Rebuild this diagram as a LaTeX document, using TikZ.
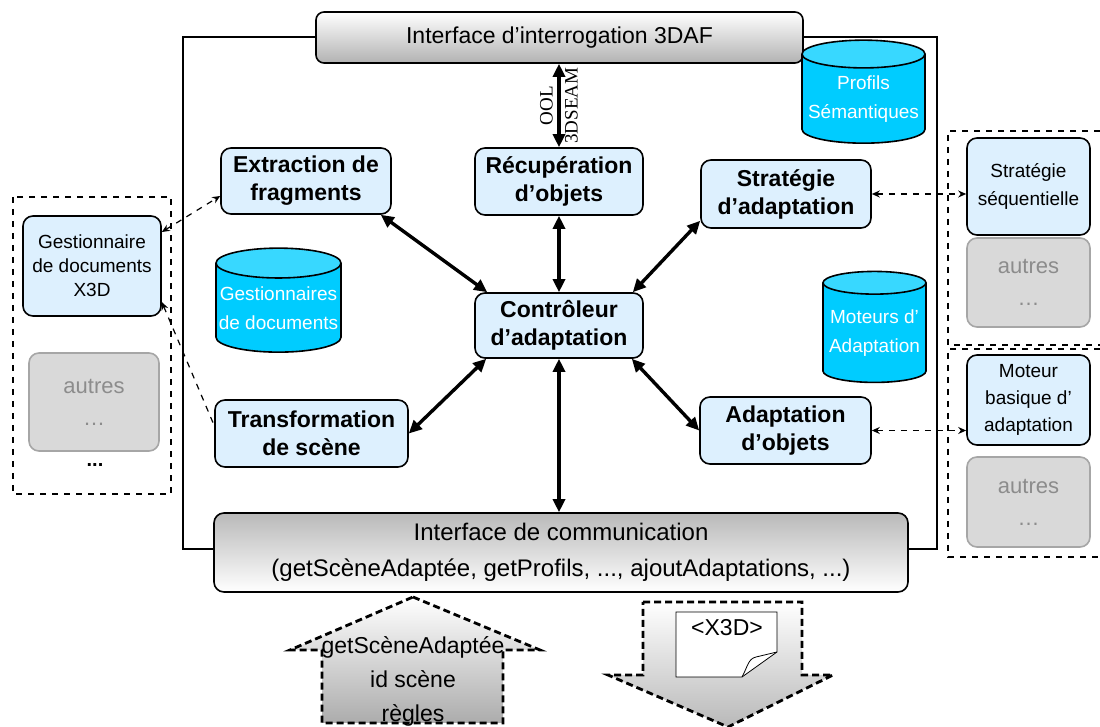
\documentclass[tikz,border=0pt]{standalone}
\usepackage{fontspec}
\setmainfont{Liberation Sans}
\newfontfamily\serifnote{Liberation Serif}
\usetikzlibrary{arrows.meta,positioning,calc,shapes.geometric}
\definecolor{boxblue}{HTML}{DDF0FE}
\definecolor{cylbody}{HTML}{00CCFF}
\definecolor{cyltop}{HTML}{38D8FF}
\definecolor{otherfill}{HTML}{D9D9D9}
\definecolor{otherdraw}{HTML}{A6A6A6}
\definecolor{othertext}{HTML}{8C8C8C}
\tikzset{
  modbox/.style={draw,thick,rounded corners=5pt,fill=boxblue,align=center,inner sep=1pt,font=\bfseries\fontsize{11.5}{14}\selectfont},
  extbox/.style={draw,thick,rounded corners=5pt,fill=boxblue,align=center,inner sep=1pt,font=\fontsize{9.5}{12}\selectfont},
  otherbox/.style={draw=otherdraw,thick,rounded corners=5pt,fill=otherfill,text=othertext,align=center,font=\fontsize{11}{16}\selectfont},
  bar/.style={draw,thick,rounded corners=4pt,top color=white,bottom color=gray!60,align=center},
  base/.style={cylinder,shape border rotate=90,aspect=0.25,draw,thick,cylinder uses custom fill,cylinder body fill=cylbody,cylinder end fill=cyltop,text=white,align=center,inner sep=0pt,font=\fontsize{9.5}{14.5}\selectfont},
  link/.style={{Triangle[length=6.5pt,width=6pt]}-{Triangle[length=6.5pt,width=6pt]},line width=1.7pt},
  dtip/.tip={Stealth[length=4pt,width=3.5pt]},
  dlink/.style={dashed,semithick},
  panel/.style={dashed,semithick},
  flow/.style={line width=1.4pt,dash pattern=on 3.5pt off 2pt}
}

\begin{document}
\begin{tikzpicture}[x=0.5pt,y=-0.5pt,font=\fontsize{10}{12}\selectfont]
\useasboundingbox (0,0) rectangle (1100,727);
\draw[semithick] (183,37) rectangle (937,549);
% external panels
\draw[panel] (13,197) rectangle (171,494);
\draw[panel] (1100,131) -- (948,131) -- (948,345) -- (1100,345);
\draw[panel] (1100,349) -- (948,349) -- (948,557) -- (1100,557);
% interfaces
\node[bar,minimum width=243.5pt,minimum height=25.5pt,font=\fontsize{11.5}{13}\selectfont] (query) at (559.5,37.5) {Interface d’interrogation 3DAF};
\node[bar,rounded corners=5pt,top color=gray!55,bottom color=white,minimum width=347pt,minimum height=39.5pt,font=\fontsize{12}{18}\selectfont] (comm) at (561,552.5) {Interface de communication\\(getScèneAdaptée, getProfils, ..., ajoutAdaptations, ...)};
% modules
\node[modbox,minimum width=84pt,minimum height=33.5pt] (recup) at (559,181.5) {Récupération\\d’objets};
\node[modbox,minimum width=85pt,minimum height=33pt] (extract) at (306,181) {Extraction de\\fragments};
\node[modbox,minimum width=85pt,minimum height=34pt] (strat) at (786,194) {Stratégie\\d’adaptation};
\node[modbox,minimum width=84pt,minimum height=32.5pt] (ctrl) at (559,325.5) {Contrôleur\\d’adaptation};
\node[modbox,minimum width=96.5pt,minimum height=33.5pt] (transf) at (311.5,433.5) {Transformation\\de scène};
\node[modbox,minimum width=85.5pt,minimum height=33.5pt] (adapt) at (785.5,430.5) {Adaptation\\d’objets};
% bases
\node[base,minimum width=61.5pt,minimum height=51.5pt] (profils) at (863.5,99) {Profils\\Sémantiques};
\node[base,minimum width=62.5pt,minimum height=52pt] (gdocs) at (278.5,308) {Gestionnaires\\de documents};
\node[base,minimum width=51.5pt,minimum height=55.5pt] (moteurs) at (874.5,333) {Moteurs d’\\Adaptation};
% plug-ins
\node[extbox,minimum width=69pt,minimum height=50pt] (gestx) at (92,266) {Gestionnaire\\de documents\\X3D};
\node[otherbox,minimum width=65pt,minimum height=49pt] (oth1) at (94,402) {autres\\…};
\node[font=\bfseries] (more) at (95,465) {...};
\node[extbox,minimum width=61.5pt,minimum height=48.5pt,font=\fontsize{9.5}{14}\selectfont] (seq) at (1028.5,186.5) {Stratégie\\séquentielle};
\node[otherbox,minimum width=61.5pt,minimum height=44.5pt] (oth2) at (1028.5,282.5) {autres\\…};
\node[extbox,minimum width=61.5pt,minimum height=45pt,font=\fontsize{9.5}{13.5}\selectfont] (motb) at (1028.5,400) {Moteur\\basique d’\\adaptation};
\node[otherbox,minimum width=61.5pt,minimum height=45pt] (oth3) at (1028.5,502) {autres\\…};
% links
\draw[link] (query.south -| recup.north) -- (recup.north) node[midway,rotate=90,align=center,font=\serifnote\fontsize{9.5}{12.5}\selectfont] (qlang) {OOL\\3DSEAM};
\draw[link] (recup.south) -- (ctrl.north);
\draw[link] ([xshift=-5.5pt]extract.south east) -- ([xshift=6.5pt]ctrl.north west);
\draw[link] ([yshift=4pt]strat.south west) -- ([xshift=-5.5pt]ctrl.north east);
\draw[link] ([xshift=6pt]ctrl.south west) -- (transf.east);
\draw[link] ([xshift=-6pt]ctrl.south east) -- (adapt.west);
\draw[link] (ctrl.south) -- (ctrl.south |- comm.north);
\draw[dlink,dtip-dtip] ([yshift=17pt]gestx.east) -- ([yshift=-7.5pt]extract.west);
\draw[dlink,dtip-] ([yshift=-18pt]gestx.east) -- ([yshift=4pt]transf.west);
\draw[dlink,dtip-dtip] (strat.east) -- (strat.east -| seq.west);
\draw[dlink,dtip-dtip] (adapt.east) -- (adapt.east -| motb.west);
% requests and answers
\draw[flow,top color=white,bottom color=gray!65] (413,597) -- (540,650) -- (503,650) -- (503,723) -- (322,723) -- (322,650) -- (290,650) -- cycle;
\node[align=center,font=\fontsize{11.5}{17}\selectfont] (req) at (413,681) {getScèneAdaptée\\id scène\\règles};
\draw[flow,top color=white,bottom color=gray!55] (643,602) -- (802,602) -- (802,675) -- (833,675) -- (728,727) -- (608,675) -- (643,675) -- cycle;
\draw[fill=white] (676,612) -- (777,612) -- (777,652) -- (742,677) -- (676,677) -- cycle;
\draw (742,677) .. controls (748,666) and (748,659) .. (756,657) -- (777,652);
\node[font=\fontsize{11.5}{13}\selectfont] (xdoc) at (727,628) {<X3D>};
\end{tikzpicture}
\end{document}
